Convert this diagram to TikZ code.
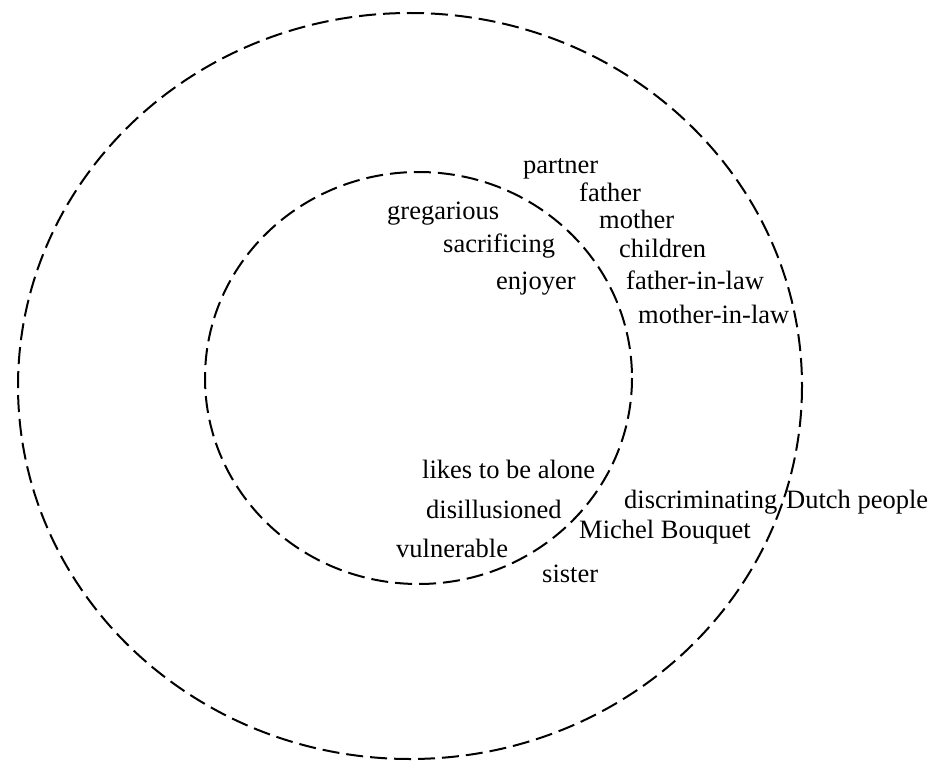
\documentclass[tikz,border=0pt]{standalone}
\usepackage{fontspec}
\setmainfont{Liberation Serif}
\begin{document}
\begin{tikzpicture}[x=1pt,y=-1pt,
  ring/.style={draw=black,line width=2pt,dash pattern=on 17pt off 7pt},
  lbl/.style={anchor=base west,inner sep=0pt,font=\fontsize{26.5}{30}\selectfont,text=black}]
\useasboundingbox (0,0) rectangle (934,762);
\draw[ring] (410,386) ellipse [x radius=392, y radius=373];
\draw[ring] (418.5,378) ellipse [x radius=213.5, y radius=206];
% outer ring texts (top right)
\node[lbl] (partner) at (523,174) {partner};
\node[lbl] (father) at (579,202) {father};
\node[lbl] (mother) at (599,229) {mother};
\node[lbl] (children) at (619,257) {children};
\node[lbl] (fil) at (626,289) {father-in-law};
\node[lbl] (mil) at (638,323) {mother-in-law};
% inner top
\node[lbl] (greg) at (387,219) {gregarious};
\node[lbl] (sacr) at (443,252) {sacrificing};
\node[lbl] (enjoy) at (496,289) {enjoyer};
% inner bottom
\node[lbl] (alone) at (422,478) {likes to be alone};
\node[lbl] (disill) at (426,518) {disillusioned};
\node[lbl] (vuln) at (396,557) {vulnerable};
% outer bottom
\node[lbl] (sister) at (542,582) {sister};
\node[lbl] (discr) at (624,508) {discriminating};
\node[lbl] (dutch) at (786,508) {Dutch people};
\node[lbl] (michel) at (579,538) {Michel Bouquet};
\end{tikzpicture}
\end{document}
